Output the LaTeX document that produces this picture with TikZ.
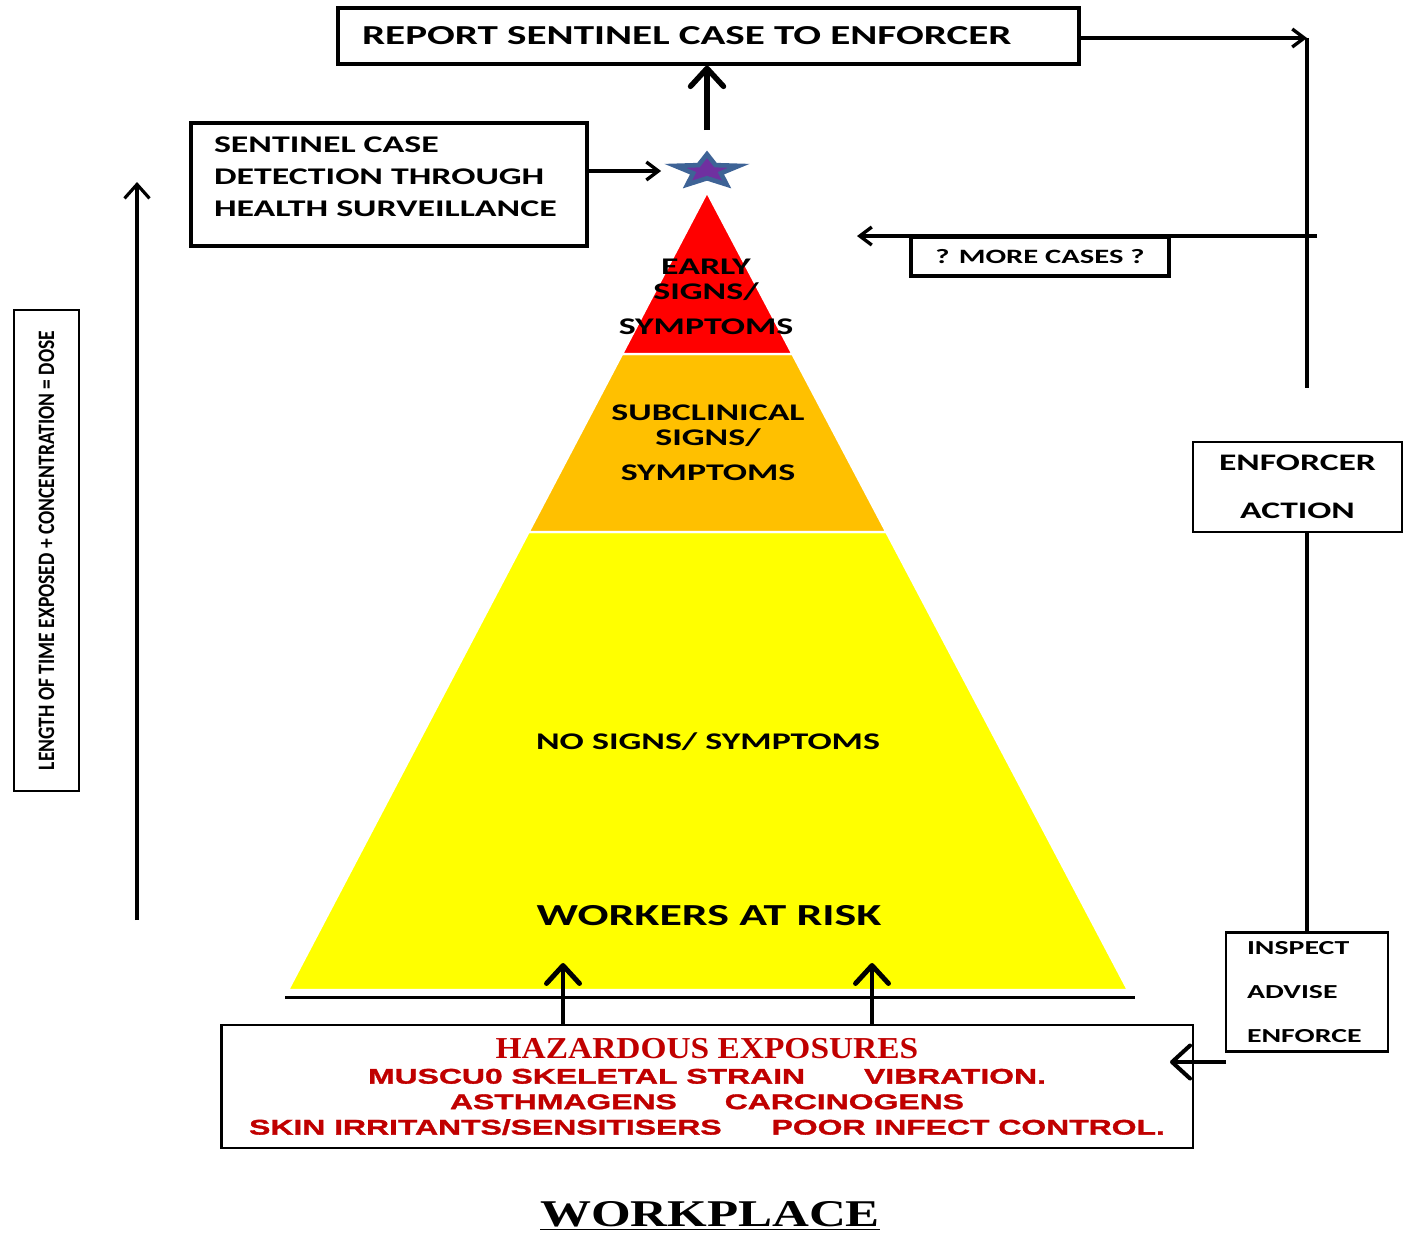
\documentclass[tikz,border=0pt]{standalone}
\usepackage{fontspec}
\usetikzlibrary{positioning,arrows.meta,shapes.geometric}
\newfontfamily\widefont[FakeStretch=1.5]{Carlito}
\newfontfamily\narrowfont[FakeStretch=0.83]{Carlito}
\newfontfamily\heavyfont[UprightFont={* Bold},FakeStretch=1.5,FakeBold=1.5]{Liberation Sans}
\newfontfamily\wpfont[FakeStretch=1.35]{Liberation Serif}
\newfontfamily\hazfont[FakeStretch=1.1]{Liberation Serif}
\definecolor{hazred}{HTML}{C00000}
\definecolor{pyrred}{HTML}{FF0000}
\definecolor{pyrorange}{HTML}{FFC000}
\definecolor{pyryellow}{HTML}{FFFF00}
\definecolor{starpurple}{HTML}{7030A0}
\definecolor{starblue}{HTML}{3E6396}
\tikzset{
  framebox/.style={draw, line width=1.9pt, inner sep=0pt},
  flowarrow/.style={-{Straight Barb[length=2.4mm, width=3.6mm]}, line width=1.9pt},
  fatarrow/.style={-{Straight Barb[length=3.6mm, width=6.6mm, round]}, line width=2.8pt},
  layer/.style={draw=white, line width=1.4pt},
  pyrlabel/.style={align=center, inner sep=0pt, font=\widefont\bfseries\fontsize{13.6}{14.2}\selectfont}
}
\begin{document}
\begin{tikzpicture}[x=0.02cm, y=-0.02cm]
  \useasboundingbox (0,0) rectangle (1408,1232);
  % pyramid
  \fill[pyryellow, layer] (528.5,532) -- (886.4,532) -- (1128,990) -- (288,990) -- cycle;
  \fill[pyrorange, layer] (622,354) -- (792.5,354) -- (886.4,532) -- (528.5,532) -- cycle;
  \fill[pyrred, layer] (707,192) -- (792.5,354) -- (622,354) -- cycle;
  \draw[line width=1.7pt] (285,997) -- (1135,997);
  \node[pyrlabel] (early) at (706,297) {EARLY\\SIGNS/\\[5.6pt]SYMPTOMS};
  \node[pyrlabel] (subclin) at (708,443) {SUBCLINICAL\\SIGNS/\\[5.6pt]SYMPTOMS};
  \node[pyrlabel] (nosigns) at (708,742) {NO SIGNS/ SYMPTOMS};
  \node[pyrlabel, font=\widefont\bfseries\fontsize{17.4}{20}\selectfont] (workers) at (709,916) {WORKERS AT RISK};
  % star at the top
  \begin{scope}[shift={(707,171)}, yscale=0.5]
    \node[star, star points=5, star point ratio=2.3, minimum size=1.34cm, inner sep=0pt,
          fill=starpurple, draw=starblue, line width=2.6pt, transform shape] (star) at (0,0) {};
  \end{scope}
  % boxes
  \node[framebox, minimum width=14.82cm, minimum height=1.12cm, text width=13.86cm, align=left,
        font=\widefont\bfseries\fontsize{15.6}{18}\selectfont] (report) at (708.5,36) {REPORT SENTINEL CASE TO ENFORCER};
  \node[framebox, line width=2.2pt, minimum width=7.92cm, minimum height=2.46cm, text width=7.0cm, align=left, text depth=45pt,
        font=\widefont\bfseries\fontsize{13.6}{18}\selectfont] (sentinel) at (389,184.5) {SENTINEL CASE\\DETECTION THROUGH\\HEALTH SURVEILLANCE};
  \node[framebox, minimum width=5.16cm, minimum height=0.78cm,
        font=\widefont\bfseries\fontsize{11.6}{14}\selectfont] (more) at (1040,256.5) {? MORE CASES ?};
  \node[framebox, line width=1.6pt, minimum width=4.18cm, minimum height=1.8cm, align=center,
        font=\widefont\bfseries\fontsize{13.5}{27}\selectfont] (enforcer) at (1297.5,487) {ENFORCER\\ACTION};
  \node[framebox, line width=1.6pt, minimum width=3.24cm, minimum height=2.38cm, text width=2.4cm, align=left,
        font=\widefont\bfseries\fontsize{11.3}{25}\selectfont] (inspect) at (1307,992) {INSPECT\\ADVISE\\ENFORCE};
  \node[draw, line width=0.8pt, inner sep=0pt, rotate=90, minimum width=9.62cm, minimum height=1.3cm,
        font=\narrowfont\bfseries\fontsize{13.4}{14}\selectfont] (dose) at (46.5,550.5) {LENGTH OF TIME EXPOSED + CONCENTRATION = DOSE};
  \node[framebox, line width=1.6pt, minimum width=19.44cm, minimum height=2.46cm, align=center, text=hazred,
        font=\heavyfont\fontsize{12.1}{14.5}\selectfont] (hazard) at (707,1086.5)
        {{\hazfont\bfseries\fontsize{17.3}{14.5}\selectfont HAZARDOUS EXPOSURES}\\
         MUSCU0 SKELETAL STRAIN\hspace{1.18cm}VIBRATION.\\
         ASTHMAGENS\hspace{0.96cm}CARCINOGENS\\
         SKIN IRRITANTS/SENSITISERS\hspace{1cm}POOR INFECT CONTROL.};
  \node[font=\wpfont\bfseries\fontsize{21.5}{24}\selectfont, inner sep=0pt] (workplace) at (710,1216) {\underline{WORKPLACE}};
  % connector ends
  \coordinate (rtop) at (1307,38);
  \coordinate (rbot) at (1307,388);
  \coordinate (mstart) at (1317,236);
  \coordinate (mend) at (857,236);
  \coordinate (insp) at (1226,1062);
  \coordinate (hzin) at (1170,1062);
  \coordinate (tlow) at (137,920);
  \coordinate (thigh) at (137,182);
  \coordinate (e1) at (563,963);
  \coordinate (e2) at (872,963);
  % connectors
  \draw[flowarrow] (report.east |- rtop) -- (rtop);
  \draw[line width=2.1pt] (rtop) -- (rbot);
  \draw[flowarrow] (mstart) -- (mend);
  \draw[fatarrow, line width=3.1pt] ([yshift=0.42cm]star.north) -- (star.north |- report.south);
  \draw[flowarrow] (sentinel.east |- star) -- ([xshift=-0.46cm]star.west);
  \draw[line width=2.3pt] (enforcer.south -| inspect.north) -- (inspect.north);
  \draw[fatarrow, line width=2.3pt] (insp) -- (hzin);
  \draw[flowarrow, -{Straight Barb[length=2.8mm, width=5mm]}, line width=1.8pt] (tlow) -- (thigh);
  \draw[fatarrow] (hazard.north -| e1) -- (e1);
  \draw[fatarrow] (hazard.north -| e2) -- (e2);
\end{tikzpicture}
\end{document}
